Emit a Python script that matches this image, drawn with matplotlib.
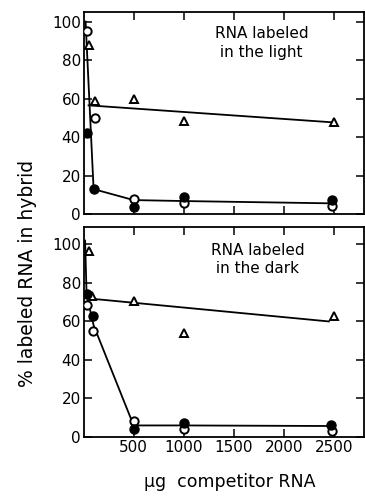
import matplotlib
matplotlib.use("Agg")
import matplotlib.pyplot as plt

# --- data ---
# top panel: RNA labeled in the light
light_open_x = [30, 110, 500, 1000, 2480]
light_open_y = [95, 50, 8, 6, 4]
light_filled_x = [30, 100, 500, 1000, 2480]
light_filled_y = [42, 13, 3.5, 8.7, 7.3]
light_tri_x = [50, 110, 500, 1000, 2500]
light_tri_y = [88, 58.5, 60, 48.5, 47.7]
light_curve_x = [20, 100, 500, 1000, 2480]
light_curve_y = [100, 13, 7.3, 6.8, 5.6]
light_tri_line_x = [50, 2480]
light_tri_line_y = [56.5, 47.7]

# bottom panel: RNA labeled in the dark
dark_open_x = [30, 90, 500, 1000, 2480]
dark_open_y = [68.5, 55, 8.3, 4.3, 3.3]
dark_filled_x = [30, 90, 500, 1000, 2470]
dark_filled_y = [74, 63, 4, 7.3, 6.2]
dark_tri_x = [50, 80, 500, 1000, 2500]
dark_tri_y = [96.5, 73, 70.5, 54, 63]
dark_curve_x = [15, 30, 100, 500, 1000, 2480]
dark_curve_y = [102, 74, 58, 6, 6, 5.7]
dark_tri_line_x = [40, 2450]
dark_tri_line_y = [72, 60]

yticks = [0, 20, 40, 60, 80, 100]
xticks = [500, 1000, 1500, 2000, 2500]

plt.rcParams['font.family'] = ['DejaVu Sans']

fig = plt.figure(figsize=(3.65, 4.98), dpi=100)
ax_top = fig.add_axes([0.229, 0.570, 0.768, 0.406])
ax_bot = fig.add_axes([0.229, 0.1225, 0.768, 0.4215])


def draw_panel(ax, ox, oy, fx, fy, tx, ty, cx, cy, lx, ly, ymax, label, lab_xy):
    ax.plot(cx, cy, color='black', lw=1.3, zorder=2)
    ax.plot(lx, ly, color='black', lw=1.3, zorder=2)
    ax.plot(tx, ty, linestyle='none', marker='^', ms=5.5, mfc='white',
            mec='black', mew=1.4, zorder=3)
    ax.plot(ox, oy, linestyle='none', marker='o', ms=6, mfc='white',
            mec='black', mew=1.4, zorder=4)
    ax.plot(fx, fy, linestyle='none', marker='o', ms=6.5, mfc='black',
            mec='black', zorder=5)
    ax.set_xlim(0, 2800)
    ax.set_ylim(0, ymax)
    ax.set_yticks(yticks)
    ax.set_xticks(xticks)
    ax.tick_params(direction='in', length=6, width=1.1, top=True, right=True,
                   labelsize=11, pad=2)
    for s in ax.spines.values():
        s.set_linewidth(1.3)
    ax.text(lab_xy[0], lab_xy[1], label, transform=ax.transAxes, fontsize=11,
            ha='left', va='top', linespacing=1.3)


draw_panel(ax_top, light_open_x, light_open_y, light_filled_x, light_filled_y,
           light_tri_x, light_tri_y, light_curve_x, light_curve_y,
           light_tri_line_x, light_tri_line_y, 105,
           "RNA labeled\n in the light", (0.47, 0.93))
ax_top.tick_params(labelbottom=False)

draw_panel(ax_bot, dark_open_x, dark_open_y, dark_filled_x, dark_filled_y,
           dark_tri_x, dark_tri_y, dark_curve_x, dark_curve_y,
           dark_tri_line_x, dark_tri_line_y, 109,
           "RNA labeled\n in the dark", (0.455, 0.925))

fig.text(0.074, 0.45, "% labeled RNA in hybrid", rotation=90, fontsize=13.5,
         ha='center', va='center')
fig.text(0.63, 0.032, "\u03bcg  competitor RNA", fontsize=12.5,
         ha='center', va='center')

fig.savefig("out.png", dpi=100)
